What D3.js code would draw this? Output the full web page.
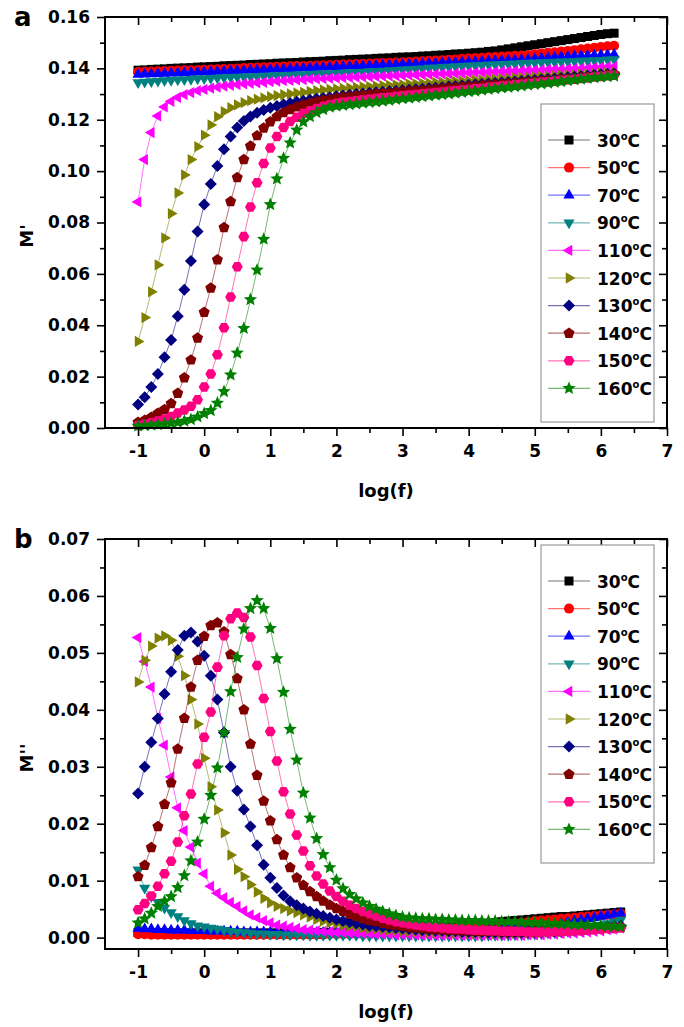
<!DOCTYPE html>
<html>
<head>
<meta charset="utf-8">
<script src="https://cdn.jsdelivr.net/npm/d3@7"></script>
<style>
body { margin: 0; background: #fff; }
svg { display: block; }
text { font-family: "DejaVu Sans", Arial, sans-serif; font-weight: bold; fill: #000; }
</style>
</head>
<body>
<svg width="684" height="1027"></svg>
<script>
var svg = d3.select('svg');

// legend / series info
var temps = ['30', '50', '70', '90', '110', '120', '130', '140', '150', '160'];
var colors = ['#000000', '#ff0000', '#0000ff', '#008080', '#ff00ff', '#808000', '#000080', '#800000', '#ff0080', '#008000'];
var shapes = ['square', 'circle', 'up', 'down', 'left', 'right', 'diamond', 'pentagon', 'hexagon', 'star'];

// axis ticks
var xMajor = [-1, 0, 1, 2, 3, 4, 5, 6, 7];
var xMinor = [-0.5, 0.5, 1.5, 2.5, 3.5, 4.5, 5.5, 6.5];
var yMajorA = [0, 0.02, 0.04, 0.06, 0.08, 0.10, 0.12, 0.14, 0.16];
var yMinorA = [0.01, 0.03, 0.05, 0.07, 0.09, 0.11, 0.13, 0.15];
var yMajorB = [0, 0.01, 0.02, 0.03, 0.04, 0.05, 0.06, 0.07];
var yMinorB = [0.005, 0.015, 0.025, 0.035, 0.045, 0.055, 0.065];

// log(f) values
var logfA = [-1.0,-0.9,-0.8,-0.7,-0.6,-0.5,-0.4,-0.3,-0.2,-0.1,
  0.0,0.1,0.2,0.3,0.4,0.5,0.6,0.7,0.8,0.9,
  1.0,1.1,1.2,1.3,1.4,1.5,1.6,1.7,1.8,1.9,
  2.0,2.1,2.2,2.3,2.4,2.5,2.6,2.7,2.8,2.9,
  3.0,3.1,3.2,3.3,3.4,3.5,3.6,3.7,3.8,3.9,
  4.0,4.1,4.2,4.3,4.4,4.5,4.6,4.7,4.8,4.9,
  5.0,5.1,5.2,5.3,5.4,5.5,5.6,5.7,5.8,5.9,
  6.0,6.1,6.2];
var logfB = [-1.0,-0.9,-0.8,-0.7,-0.6,-0.5,-0.4,-0.3,-0.2,-0.1,
  0.0,0.1,0.2,0.3,0.4,0.5,0.6,0.7,0.8,0.9,
  1.0,1.1,1.2,1.3,1.4,1.5,1.6,1.7,1.8,1.9,
  2.0,2.1,2.2,2.3,2.4,2.5,2.6,2.7,2.8,2.9,
  3.0,3.1,3.2,3.3,3.4,3.5,3.6,3.7,3.8,3.9,
  4.0,4.1,4.2,4.3,4.4,4.5,4.6,4.7,4.8,4.9,
  5.0,5.1,5.2,5.3,5.4,5.5,5.6,5.7,5.8,5.9,
  6.0,6.1,6.2,6.3];

// M' (panel a)
var mp30 = [.1393,.1394,.1396,.1397,.1398,.1400,.1401,.1402,.1403,.1405,
  .1406,.1407,.1408,.1410,.1411,.1412,.1413,.1415,.1416,.1417,
  .1418,.1420,.1421,.1422,.1423,.1425,.1426,.1427,.1428,.1430,
  .1431,.1432,.1434,.1435,.1436,.1437,.1439,.1440,.1441,.1443,
  .1444,.1445,.1446,.1448,.1449,.1451,.1452,.1454,.1456,.1457,
  .1459,.1461,.1463,.1466,.1468,.1472,.1476,.1480,.1484,.1488,
  .1492,.1496,.1500,.1504,.1508,.1512,.1516,.1520,.1524,.1528,
  .1532,.1535,.1537];
var mp50 = [.1386,.1387,.1388,.1389,.1390,.1391,.1392,.1393,.1393,.1394,
  .1395,.1396,.1397,.1398,.1399,.1400,.1401,.1402,.1403,.1404,
  .1405,.1406,.1407,.1408,.1409,.1409,.1410,.1411,.1412,.1413,
  .1414,.1415,.1416,.1417,.1418,.1419,.1420,.1421,.1422,.1423,
  .1424,.1425,.1427,.1428,.1430,.1431,.1432,.1434,.1435,.1437,
  .1438,.1440,.1441,.1443,.1444,.1446,.1447,.1449,.1450,.1452,
  .1455,.1458,.1461,.1463,.1466,.1468,.1471,.1474,.1477,.1480,
  .1483,.1486,.1488];
var mp70 = [.1376,.1377,.1378,.1379,.1380,.1381,.1382,.1383,.1384,.1385,
  .1386,.1387,.1388,.1389,.1390,.1391,.1392,.1393,.1394,.1395,
  .1396,.1397,.1398,.1399,.1400,.1401,.1402,.1403,.1404,.1405,
  .1406,.1407,.1408,.1409,.1410,.1411,.1412,.1413,.1414,.1415,
  .1416,.1417,.1418,.1419,.1420,.1421,.1422,.1423,.1424,.1425,
  .1426,.1427,.1428,.1429,.1430,.1431,.1432,.1433,.1434,.1435,
  .1437,.1439,.1441,.1443,.1445,.1446,.1448,.1449,.1450,.1451,
  .1452,.1453,.1454];
var mp90 = [.1345,.1347,.1349,.1351,.1353,.1354,.1356,.1357,.1358,.1360,
  .1361,.1362,.1363,.1364,.1365,.1366,.1367,.1368,.1369,.1370,
  .1371,.1372,.1373,.1374,.1375,.1376,.1377,.1378,.1379,.1380,
  .1381,.1382,.1384,.1385,.1386,.1388,.1389,.1390,.1392,.1393,
  .1395,.1396,.1398,.1399,.1401,.1402,.1404,.1405,.1407,.1408,
  .1410,.1411,.1412,.1414,.1415,.1416,.1417,.1418,.1420,.1421,
  .1422,.1423,.1424,.1425,.1426,.1427,.1428,.1429,.1430,.1431,
  .1432,.1434,.1435];
var mp110 = [.0880,.1045,.1150,.1215,.1250,.1272,.1287,.1298,.1306,.1313,
  .1318,.1323,.1327,.1331,.1334,.1337,.1340,.1342,.1344,.1346,
  .1348,.1350,.1352,.1353,.1355,.1356,.1358,.1359,.1360,.1362,
  .1363,.1364,.1365,.1366,.1367,.1368,.1369,.1370,.1371,.1372,
  .1373,.1374,.1375,.1376,.1377,.1378,.1379,.1380,.1381,.1382,
  .1383,.1384,.1385,.1386,.1387,.1388,.1389,.1390,.1391,.1392,
  .1393,.1394,.1395,.1396,.1397,.1398,.1399,.1400,.1401,.1403,
  .1404,.1406,.1407];
var mp120 = [.0337,.0430,.0530,.0635,.0740,.0835,.0915,.0985,.1045,.1095,
  .1140,.1180,.1212,.1232,.1247,.1258,.1267,.1274,.1280,.1285,
  .1290,.1294,.1298,.1301,.1304,.1307,.1310,.1313,.1316,.1318,
  .1320,.1322,.1324,.1326,.1328,.1329,.1331,.1333,.1334,.1336,
  .1337,.1339,.1340,.1342,.1343,.1345,.1346,.1348,.1349,.1351,
  .1352,.1354,.1355,.1357,.1358,.1360,.1361,.1363,.1364,.1366,
  .1367,.1369,.1370,.1372,.1373,.1375,.1376,.1378,.1379,.1381,
  .1382,.1384,.1385];
var mp130 = [.0091,.0120,.0160,.0210,.0275,.0343,.0435,.0538,.0650,.0765,
  .0870,.0950,.1020,.1085,.1135,.1170,.1195,.1213,.1227,.1238,
  .1247,.1254,.1260,.1265,.1270,.1274,.1278,.1282,.1285,.1288,
  .1291,.1294,.1297,.1300,.1302,.1305,.1307,.1309,.1311,.1313,
  .1315,.1317,.1319,.1321,.1323,.1325,.1327,.1329,.1331,.1333,
  .1335,.1337,.1339,.1341,.1343,.1345,.1347,.1349,.1351,.1353,
  .1355,.1357,.1359,.1361,.1363,.1365,.1367,.1369,.1371,.1374,
  .1376,.1378,.1380];
var mp140 = [.0022,.0030,.0042,.0057,.0072,.0095,.0135,.0195,.0265,.0350,
  .0450,.0545,.0655,.0780,.0882,.0975,.1045,.1098,.1138,.1168,
  .1192,.1212,.1228,.1240,.1250,.1258,.1265,.1271,.1276,.1280,
  .1284,.1287,.1290,.1293,.1296,.1298,.1301,.1303,.1305,.1307,
  .1309,.1311,.1313,.1315,.1317,.1319,.1321,.1323,.1325,.1327,
  .1329,.1331,.1333,.1335,.1337,.1339,.1341,.1343,.1345,.1347,
  .1349,.1351,.1353,.1355,.1357,.1359,.1361,.1364,.1366,.1369,
  .1371,.1374,.1376];
var mp150 = [.0010,.0015,.0020,.0027,.0035,.0045,.0058,.0070,.0085,.0110,
  .0160,.0210,.0285,.0390,.0510,.0628,.0745,.0860,.0955,.1030,
  .1090,.1135,.1170,.1193,.1210,.1224,.1235,.1244,.1252,.1258,
  .1264,.1268,.1271,.1274,.1277,.1280,.1283,.1286,.1288,.1291,
  .1293,.1296,.1298,.1301,.1303,.1306,.1308,.1311,.1313,.1316,
  .1318,.1321,.1323,.1326,.1328,.1331,.1333,.1336,.1338,.1341,
  .1343,.1346,.1348,.1351,.1353,.1356,.1358,.1361,.1363,.1366,
  .1368,.1371,.1373];
var mp160 = [.0008,.0009,.0011,.0013,.0016,.0019,.0022,.0027,.0033,.0043,
  .0056,.0068,.0097,.0142,.0207,.0292,.0388,.0500,.0615,.0735,
  .0870,.0970,.1050,.1110,.1160,.1192,.1212,.1228,.1240,.1249,
  .1253,.1256,.1259,.1262,.1265,.1268,.1270,.1273,.1276,.1279,
  .1282,.1284,.1287,.1290,.1293,.1296,.1298,.1301,.1304,.1307,
  .1310,.1312,.1315,.1318,.1321,.1324,.1326,.1329,.1332,.1335,
  .1338,.1340,.1343,.1346,.1349,.1352,.1355,.1358,.1361,.1364,
  .1366,.1368,.1370];

// M'' (panel b)
var mpp30 = [.0009,.0009,.0009,.0009,.0008,.0008,.0008,.0008,.0008,.0008,
  .0008,.0008,.0008,.0008,.0008,.0008,.0008,.0008,.0008,.0008,
  .0008,.0008,.0008,.0008,.0008,.0008,.0008,.0009,.0009,.0009,
  .0009,.0009,.0010,.0010,.0010,.0011,.0011,.0012,.0013,.0013,
  .0014,.0015,.0015,.0016,.0017,.0018,.0019,.0019,.0020,.0021,
  .0022,.0023,.0024,.0025,.0026,.0028,.0029,.0030,.0031,.0032,
  .0033,.0034,.0035,.0036,.0037,.0037,.0038,.0039,.0040,.0041,
  .0042,.0043,.0044,.0045];
var mpp50 = [.0006,.0006,.0005,.0005,.0005,.0005,.0005,.0005,.0005,.0005,
  .0005,.0005,.0005,.0005,.0005,.0005,.0005,.0005,.0005,.0005,
  .0005,.0005,.0005,.0005,.0005,.0005,.0005,.0005,.0005,.0006,
  .0006,.0006,.0006,.0007,.0007,.0007,.0008,.0008,.0009,.0009,
  .0010,.0011,.0011,.0012,.0013,.0013,.0014,.0015,.0016,.0017,
  .0018,.0019,.0020,.0021,.0022,.0023,.0024,.0025,.0026,.0027,
  .0029,.0030,.0031,.0032,.0033,.0034,.0035,.0036,.0037,.0038,
  .0039,.0040,.0041,.0042];
var mpp70 = [.0016,.0015,.0015,.0014,.0014,.0013,.0013,.0013,.0012,.0012,
  .0012,.0011,.0011,.0011,.0011,.0011,.0010,.0010,.0010,.0010,
  .0010,.0010,.0010,.0010,.0009,.0009,.0009,.0009,.0009,.0009,
  .0009,.0009,.0009,.0009,.0009,.0009,.0009,.0009,.0009,.0009,
  .0009,.0009,.0009,.0009,.0009,.0009,.0009,.0010,.0010,.0010,
  .0010,.0011,.0011,.0012,.0012,.0013,.0014,.0015,.0016,.0017,
  .0018,.0019,.0021,.0023,.0025,.0027,.0029,.0031,.0033,.0035,
  .0037,.0039,.0041,.0043];
var mpp90 = [.0119,.0087,.0072,.0062,.0052,.0044,.0037,.0030,.0025,.0021,
  .0019,.0017,.0015,.0013,.0011,.0010,.0009,.0008,.0007,.0007,
  .0006,.0006,.0005,.0005,.0005,.0005,.0004,.0004,.0004,.0004,
  .0004,.0004,.0004,.0004,.0003,.0003,.0003,.0003,.0003,.0003,
  .0003,.0003,.0003,.0003,.0003,.0003,.0003,.0003,.0003,.0003,
  .0003,.0003,.0003,.0004,.0004,.0004,.0004,.0005,.0005,.0006,
  .0006,.0007,.0008,.0009,.0010,.0011,.0013,.0015,.0017,.0019,
  .0022,.0025,.0028,.0031];
var mpp110 = [.0527,.0485,.0440,.0385,.0338,.0282,.0228,.0188,.0159,.0131,
  .0112,.0090,.0078,.0070,.0062,.0055,.0047,.0040,.0035,.0030,
  .0026,.0022,.0020,.0018,.0016,.0014,.0013,.0012,.0011,.0010,
  .0009,.0009,.0008,.0008,.0007,.0007,.0006,.0006,.0006,.0005,
  .0005,.0005,.0005,.0004,.0004,.0004,.0004,.0004,.0004,.0004,
  .0004,.0004,.0004,.0004,.0004,.0004,.0004,.0004,.0004,.0005,
  .0005,.0005,.0006,.0006,.0007,.0008,.0008,.0009,.0010,.0011,
  .0012,.0014,.0015,.0017];
var mpp120 = [.0449,.0487,.0512,.0526,.0530,.0522,.0494,.0460,.0418,.0375,
  .0315,.0265,.0224,.0184,.0145,.0120,.0107,.0093,.0080,.0069,
  .0061,.0055,.0051,.0047,.0044,.0040,.0036,.0032,.0029,.0026,
  .0024,.0022,.0020,.0019,.0017,.0016,.0015,.0014,.0013,.0012,
  .0011,.0011,.0010,.0010,.0009,.0009,.0009,.0008,.0008,.0008,
  .0007,.0007,.0007,.0007,.0007,.0007,.0007,.0007,.0008,.0008,
  .0008,.0009,.0009,.0010,.0010,.0011,.0012,.0013,.0014,.0015,
  .0016,.0017,.0018,.0019];
var mpp130 = [.0253,.0300,.0343,.0385,.0428,.0467,.0505,.0530,.0536,.0520,
  .0495,.0460,.0418,.0360,.0300,.0258,.0225,.0195,.0162,.0128,
  .0105,.0087,.0074,.0064,.0057,.0051,.0046,.0042,.0038,.0035,
  .0032,.0029,.0027,.0025,.0023,.0021,.0020,.0019,.0018,.0017,
  .0016,.0015,.0014,.0013,.0013,.0012,.0012,.0011,.0011,.0010,
  .0010,.0010,.0010,.0009,.0009,.0009,.0009,.0009,.0009,.0010,
  .0010,.0010,.0011,.0011,.0012,.0013,.0014,.0015,.0016,.0017,
  .0018,.0019,.0020,.0021];
var mpp140 = [.0107,.0127,.0158,.0195,.0234,.0272,.0331,.0385,.0440,.0487,
  .0529,.0548,.0553,.0537,.0497,.0455,.0400,.0340,.0285,.0240,
  .0205,.0172,.0145,.0123,.0105,.0092,.0081,.0072,.0064,.0057,
  .0051,.0046,.0041,.0037,.0033,.0030,.0028,.0025,.0023,.0021,
  .0020,.0018,.0017,.0016,.0015,.0014,.0014,.0013,.0013,.0012,
  .0012,.0011,.0011,.0011,.0011,.0010,.0010,.0010,.0010,.0010,
  .0010,.0011,.0011,.0011,.0012,.0012,.0013,.0014,.0014,.0015,
  .0016,.0017,.0018,.0018];
var mpp150 = [.0049,.0060,.0073,.0090,.0112,.0134,.0168,.0214,.0252,.0305,
  .0352,.0396,.0475,.0530,.0560,.0570,.0562,.0528,.0478,.0420,
  .0362,.0310,.0256,.0217,.0180,.0152,.0126,.0108,.0094,.0082,
  .0072,.0064,.0057,.0051,.0046,.0042,.0038,.0034,.0031,.0028,
  .0026,.0024,.0022,.0021,.0019,.0018,.0017,.0016,.0015,.0015,
  .0014,.0013,.0013,.0012,.0012,.0011,.0011,.0011,.0011,.0010,
  .0010,.0010,.0010,.0011,.0011,.0011,.0012,.0012,.0013,.0014,
  .0015,.0016,.0016,.0017];
var mpp160 = [.0026,.0033,.0043,.0055,.0064,.0072,.0088,.0109,.0135,.0168,
  .0208,.0250,.0298,.0360,.0432,.0492,.0542,.0578,.0592,.0578,
  .0543,.0490,.0431,.0366,.0312,.0254,.0210,.0174,.0146,.0123,
  .0101,.0086,.0076,.0068,.0061,.0055,.0050,.0046,.0042,.0039,
  .0036,.0035,.0034,.0033,.0033,.0032,.0032,.0031,.0031,.0030,
  .0030,.0030,.0029,.0029,.0029,.0028,.0028,.0028,.0027,.0027,
  .0026,.0026,.0025,.0025,.0024,.0024,.0023,.0023,.0022,.0022,
  .0021,.0020,.0020,.0019];

var seriesA = [mp30, mp50, mp70, mp90, mp110, mp120, mp130, mp140, mp150, mp160];
var seriesB = [mpp30, mpp50, mpp70, mpp90, mpp110, mpp120, mpp130, mpp140, mpp150, mpp160];

var x = d3.scaleLinear().domain([-1.5, 7]).range([105, 667]);

// marker shapes
function polyPath(n, r, start) {
  var pts = d3.range(n).map(function (i) {
    var a = start + i * 2 * Math.PI / n;
    return [(r * Math.cos(a)).toFixed(2), (r * Math.sin(a)).toFixed(2)];
  });
  return 'M' + pts.join('L') + 'Z';
}
function starPath(r) {
  var pts = d3.range(10).map(function (i) {
    var a = -Math.PI / 2 + i * Math.PI / 5;
    var rr = i % 2 ? r * 0.45 : r;
    return [(rr * Math.cos(a)).toFixed(2), (rr * Math.sin(a)).toFixed(2)];
  });
  return 'M' + pts.join('L') + 'Z';
}
function markerPath(shape) {
  if (shape == 'square') return 'M-4.5,-4.5H4.5V4.5H-4.5Z';
  if (shape == 'circle') return d3.symbol(d3.symbolCircle, Math.PI * 5 * 5)();
  if (shape == 'up') return polyPath(3, 6.5, -Math.PI / 2);
  if (shape == 'down') return polyPath(3, 6.5, Math.PI / 2);
  if (shape == 'left') return polyPath(3, 6.5, Math.PI);
  if (shape == 'right') return polyPath(3, 6.5, 0);
  if (shape == 'diamond') return polyPath(4, 6, 0);
  if (shape == 'pentagon') return polyPath(5, 5.8, -Math.PI / 2);
  if (shape == 'hexagon') return polyPath(6, 5.5, 0);
  return starPath(7);
}

function drawPanel(p) {
  var y = d3.scaleLinear().domain(p.yDomain).range([p.bottom, p.top]);
  var g = svg.append('g');

  // series
  var line = d3.line()
    .x(function (d) { return x(d[0]); })
    .y(function (d) { return y(d[1]); });

  p.series.forEach(function (vals, i) {
    var pts = vals.map(function (v, j) { return [p.logf[j], v]; });
    g.append('path')
      .attr('d', line(pts))
      .attr('fill', 'none')
      .attr('stroke', colors[i])
      .attr('stroke-opacity', 0.55)
      .attr('stroke-width', 1);
    g.append('g').selectAll('path')
      .data(pts)
      .enter()
      .append('path')
      .attr('d', markerPath(shapes[i]))
      .attr('transform', function (d) { return 'translate(' + x(d[0]) + ',' + y(d[1]) + ')'; })
      .attr('fill', colors[i]);
  });

  // axes
  var axes = [
    d3.axisBottom(x).tickValues(xMajor).tickSize(8).tickPadding(9).tickFormat(function (d) { return String(d); }),
    d3.axisBottom(x).tickValues(xMinor).tickSize(5).tickFormat(''),
    d3.axisTop(x).tickValues(xMajor).tickSize(-8).tickFormat(''),
    d3.axisTop(x).tickValues(xMinor).tickSize(-5).tickFormat(''),
    d3.axisLeft(y).tickValues(p.yMajor).tickSize(8).tickPadding(7).tickFormat(d3.format('.2f')),
    d3.axisLeft(y).tickValues(p.yMinor).tickSize(5).tickFormat(''),
    d3.axisRight(y).tickValues(p.yMajor).tickSize(-8).tickFormat(''),
    d3.axisRight(y).tickValues(p.yMinor).tickSize(-5).tickFormat('')
  ];
  var pos = ['0,' + p.bottom, '0,' + p.bottom, '0,' + p.top, '0,' + p.top,
    '105,0', '105,0', '667,0', '667,0'];
  axes.forEach(function (ax, i) {
    var a = g.append('g').attr('transform', 'translate(' + pos[i] + ')').call(ax);
    a.select('.domain').remove();
    a.selectAll('line').attr('stroke', '#000').attr('stroke-width', 1.6);
    a.selectAll('text')
      .attr('font-family', '"DejaVu Sans", Arial, sans-serif')
      .attr('font-size', 17)
      .attr('font-weight', 'bold')
      .attr('fill', '#000');
  });

  g.append('rect')
    .attr('x', 105).attr('y', p.top)
    .attr('width', 562).attr('height', p.bottom - p.top)
    .attr('fill', 'none').attr('stroke', '#000').attr('stroke-width', 2);

  // titles
  g.append('text').attr('x', 14).attr('y', p.top + 9).attr('font-size', 26).text(p.letter);
  g.append('text').attr('x', 386).attr('y', p.bottom + 69)
    .attr('text-anchor', 'middle').attr('font-size', 18).text('log(f)');
  g.append('text')
    .attr('transform', 'translate(33,' + p.ylabelY + ') rotate(-90)')
    .attr('text-anchor', 'middle').attr('font-size', 18).text(p.ylabel);

  // legend
  var lg = g.append('g');
  lg.append('rect')
    .attr('x', 541).attr('y', p.legendTop)
    .attr('width', 113).attr('height', 318)
    .attr('fill', '#fff').attr('stroke', '#999').attr('stroke-width', 1.2);
  temps.forEach(function (t, i) {
    var ly = p.legendTop + 36 + i * 27.6;
    lg.append('line')
      .attr('x1', 548).attr('x2', 590).attr('y1', ly).attr('y2', ly)
      .attr('stroke', colors[i]).attr('stroke-opacity', 0.55).attr('stroke-width', 1.2);
    lg.append('path')
      .attr('d', markerPath(shapes[i]))
      .attr('transform', 'translate(569,' + ly + ')')
      .attr('fill', colors[i]);
    var tx = lg.append('text').attr('x', 597).attr('y', ly + 6.5).attr('font-size', 17);
    tx.append('tspan').text(t);
    tx.append('tspan').attr('font-size', 10).attr('dy', -7).text('o');
    tx.append('tspan').attr('dy', 7).text('C');
  });
}

drawPanel({
  top: 17, bottom: 428, yDomain: [0, 0.16],
  yMajor: yMajorA, yMinor: yMinorA,
  logf: logfA, series: seriesA,
  letter: 'a', ylabel: "M'", ylabelY: 236, legendTop: 104
});

drawPanel({
  top: 539, bottom: 949, yDomain: [-0.002, 0.07],
  yMajor: yMajorB, yMinor: yMinorB,
  logf: logfB, series: seriesB,
  letter: 'b', ylabel: "M''", ylabelY: 758, legendTop: 545
});
</script>
</body>
</html>
